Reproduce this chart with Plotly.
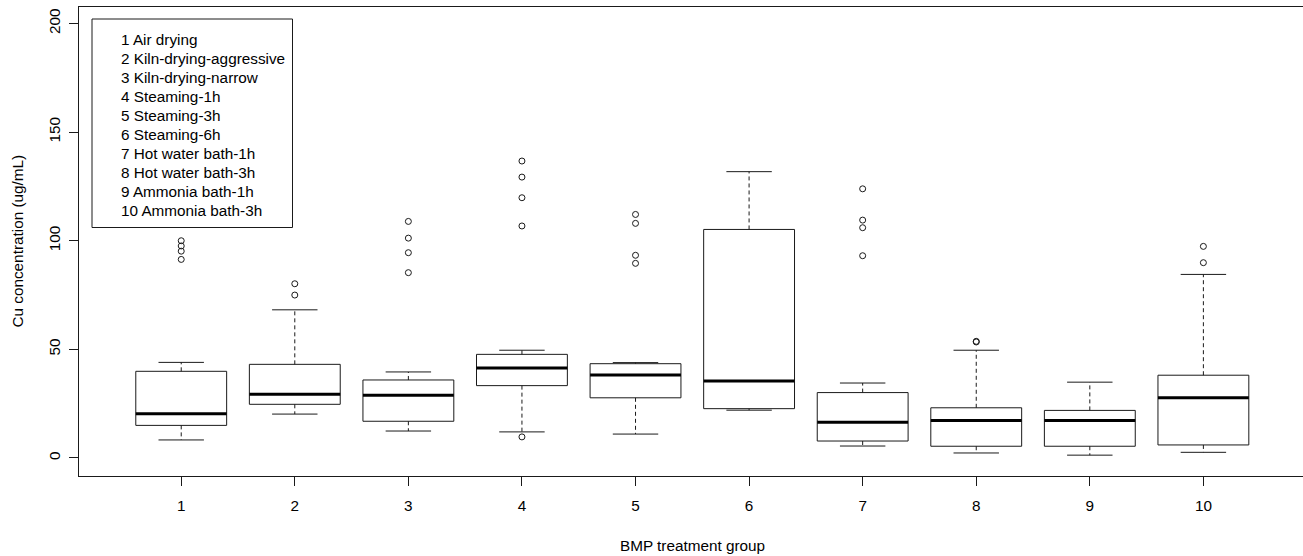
import plotly.graph_objects as go

# ---- data ----
groups = [1, 2, 3, 4, 5, 6, 7, 8, 9, 10]
treatment_names = ["1 Air drying", "2 Kiln-drying-aggressive", "3 Kiln-drying-narrow",
                   "4 Steaming-1h", "5 Steaming-3h", "6 Steaming-6h",
                   "7 Hot water bath-1h", "8 Hot water bath-3h",
                   "9 Ammonia bath-1h", "10 Ammonia bath-3h"]
lower_whisker = [8.3, 20.2, 12.4, 12.0, 11.0, 22.0, 5.5, 2.3, 1.3, 2.6]
q1 = [15.0, 24.7, 16.9, 33.3, 27.7, 22.7, 7.8, 5.4, 5.4, 6.0]
median = [20.4, 29.3, 28.9, 41.4, 38.2, 35.4, 16.4, 17.3, 17.2, 27.7]
q3 = [39.9, 43.1, 35.9, 47.7, 43.4, 105.2, 30.1, 23.1, 21.9, 38.1]
upper_whisker = [44.0, 68.2, 39.6, 49.6, 43.9, 131.8, 34.5, 49.6, 34.9, 84.5]
outliers = [
    [100.0, 97.6, 95.2, 91.4],
    [80.2, 75.0],
    [108.9, 101.2, 94.5, 85.3],
    [136.7, 129.3, 119.8, 106.8, 9.7],
    [112.1, 108.0, 93.3, 89.6],
    [],
    [123.9, 109.5, 106.0, 93.1],
    [53.4, 53.7],
    [],
    [97.4, 89.9],
]
y_ticks = [0, 50, 100, 150, 200]

# ---- geometry / style ----
W, H = 1303, 556
ML, MR, MT, MB = 79, 0, 7, 80
X_RANGE = [0.1, 10.877]
Y_RANGE = [-8.3, 207.6]
BOX_HALF = 0.4
CAP_HALF = 0.2
LINE_COL = "#1a1a1a"
FONT = "Liberation Sans, Arial, sans-serif"
FS = 15.3

box_x, box_y = [], []
med_x, med_y = [], []
wh_x, wh_y = [], []
cap_x, cap_y = [], []
out_x, out_y = [], []
for i, g in enumerate(groups):
    l, r = g - BOX_HALF, g + BOX_HALF
    box_x += [l, r, r, l, l, None]
    box_y += [q1[i], q1[i], q3[i], q3[i], q1[i], None]
    med_x += [l, r, None]
    med_y += [median[i], median[i], None]
    wh_x += [g, g, None, g, g, None]
    wh_y += [q3[i], upper_whisker[i], None, q1[i], lower_whisker[i], None]
    cap_x += [g - CAP_HALF, g + CAP_HALF, None, g - CAP_HALF, g + CAP_HALF, None]
    cap_y += [upper_whisker[i], upper_whisker[i], None, lower_whisker[i], lower_whisker[i], None]
    for v in outliers[i]:
        out_x.append(g)
        out_y.append(v)

fig = go.Figure()
fig.add_trace(go.Scatter(x=wh_x, y=wh_y, mode="lines",
                         line=dict(color=LINE_COL, width=1, dash="4px,3px"),
                         hoverinfo="skip", showlegend=False))
fig.add_trace(go.Scatter(x=cap_x, y=cap_y, mode="lines",
                         line=dict(color=LINE_COL, width=1),
                         hoverinfo="skip", showlegend=False))
fig.add_trace(go.Scatter(x=box_x, y=box_y, mode="lines",
                         line=dict(color=LINE_COL, width=1),
                         hoverinfo="skip", showlegend=False))
fig.add_trace(go.Scatter(x=med_x, y=med_y, mode="lines",
                         line=dict(color="black", width=3),
                         hoverinfo="skip", showlegend=False))
fig.add_trace(go.Scatter(x=out_x, y=out_y, mode="markers",
                         marker=dict(symbol="circle-open", size=6, color=LINE_COL,
                                     line=dict(width=1)),
                         hoverinfo="skip", showlegend=False))

plot_w = W - ML - MR
plot_h = H - MT - MB


def px_x(px):
    return (px - ML) / plot_w


def px_y(py):
    return (H - MB - py) / plot_h


# legend box
fig.add_shape(type="rect", xref="paper", yref="paper",
              x0=px_x(92), x1=px_x(292.5), y0=px_y(227.5), y1=px_y(19),
              line=dict(color=LINE_COL, width=1), fillcolor="white", layer="above")
for k, name in enumerate(treatment_names):
    fig.add_annotation(x=px_x(119), y=px_y(39.5 + 19.0 * k), xref="paper", yref="paper",
                       text=name, showarrow=False, xanchor="left", yanchor="middle",
                       font=dict(family=FONT, size=FS, color="black"))

# axis titles
fig.add_annotation(x=px_x(692), y=px_y(545), xref="paper", yref="paper",
                   text="BMP treatment group", showarrow=False,
                   xanchor="center", yanchor="middle",
                   font=dict(family=FONT, size=FS, color="black"))
fig.add_annotation(x=px_x(17), y=px_y(241.5), xref="paper", yref="paper",
                   text="Cu concentration (ug/mL)", showarrow=False, textangle=-90,
                   xanchor="center", yanchor="middle",
                   font=dict(family=FONT, size=FS, color="black"))

fig.update_layout(
    width=W, height=H,
    margin=dict(l=ML, r=MR, t=MT, b=MB, pad=0),
    paper_bgcolor="white", plot_bgcolor="white",
    showlegend=False,
    font=dict(family=FONT, size=FS, color="black"),
)
fig.update_xaxes(range=X_RANGE, tickmode="array", tickvals=groups,
                 ticktext=[str(g) for g in groups],
                 showgrid=False, zeroline=False, showline=True, linecolor=LINE_COL,
                 linewidth=1, mirror=True, ticks="outside", ticklen=9, tickcolor=LINE_COL,
                 tickfont=dict(family=FONT, size=FS, color="black"),
                 ticklabelstandoff=7)
fig.update_yaxes(range=Y_RANGE, tickmode="array", tickvals=y_ticks,
                 ticktext=[str(t) for t in y_ticks],
                 showgrid=False, zeroline=False, showline=True, linecolor=LINE_COL,
                 linewidth=1, mirror=False, ticks="outside", ticklen=9, tickcolor=LINE_COL,
                 tickangle=-90,
                 tickfont=dict(family=FONT, size=FS, color="black"),
                 ticklabelstandoff=3)

fig.write_html("out.html")
